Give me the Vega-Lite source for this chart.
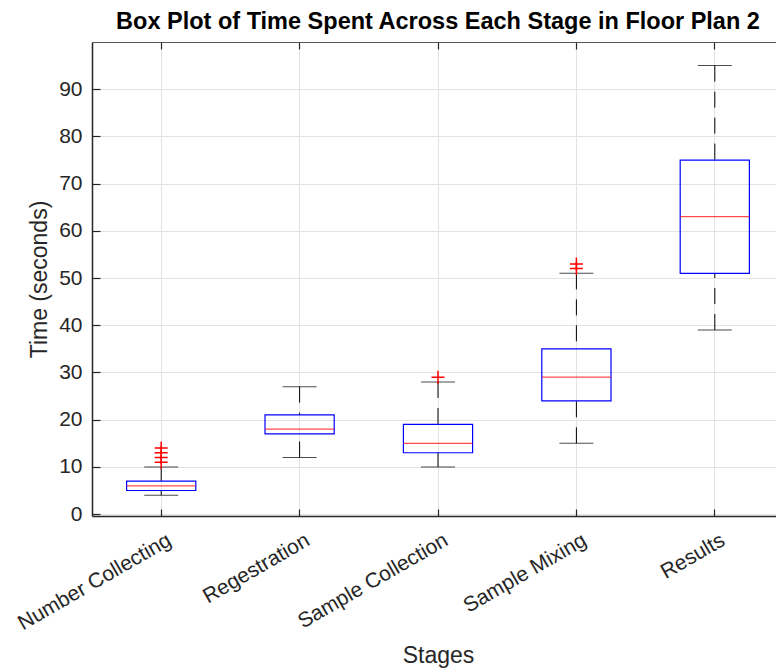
{
  "$schema": "https://vega.github.io/schema/vega-lite/v6.json",
  "autosize": {"type": "none"},
  "padding": {"left": 92, "top": 42, "right": 0, "bottom": 152},
  "width": 684,
  "height": 474,
  "background": "white",
  "title": {
    "text": "Box Plot of Time Spent Across Each Stage in Floor Plan 2",
    "font": "Liberation Sans",
    "fontSize": 23.5,
    "fontWeight": "bold",
    "color": "#000000",
    "anchor": "middle",
    "dx": 4,
    "offset": 8
  },
  "datasets": {
    "stats": [
      {"stage": "Number Collecting", "lower": 4, "q1": 5, "median": 6, "q3": 7, "upper": 10},
      {"stage": "Regestration", "lower": 12, "q1": 17, "median": 18, "q3": 21, "upper": 27},
      {"stage": "Sample Collection", "lower": 10, "q1": 13, "median": 15, "q3": 19, "upper": 28},
      {"stage": "Sample Mixing", "lower": 15, "q1": 24, "median": 29, "q3": 35, "upper": 51},
      {"stage": "Results", "lower": 39, "q1": 51, "median": 63, "q3": 75, "upper": 95}
    ],
    "outliers": [
      {"stage": "Number Collecting", "time": 11},
      {"stage": "Number Collecting", "time": 12},
      {"stage": "Number Collecting", "time": 13},
      {"stage": "Number Collecting", "time": 14},
      {"stage": "Sample Collection", "time": 29},
      {"stage": "Sample Mixing", "time": 52},
      {"stage": "Sample Mixing", "time": 53}
    ]
  },
  "config": {
    "view": {"stroke": null},
    "axis": {
      "labelFont": "Liberation Sans",
      "titleFont": "Liberation Sans",
      "labelColor": "#262626",
      "titleColor": "#262626",
      "domainColor": "#262626",
      "tickColor": "#262626",
      "gridColor": "#e3e3e3",
      "gridWidth": 1,
      "domainWidth": 1.5,
      "tickWidth": 1.2,
      "labelFontSize": 21,
      "titleFontSize": 23,
      "titleFontWeight": "normal"
    }
  },
  "resolve": {"axis": {"x": "independent"}},
  "layer": [
    {
      "data": {"name": "stats"},
      "mark": {"type": "rule", "color": "black", "strokeWidth": 1, "strokeDash": [16, 10]},
      "encoding": {
        "x": {
          "field": "stage", "type": "nominal", "sort": null,
          "scale": {"range": [0, 692], "paddingInner": 0, "paddingOuter": 0},
          "axis": {
            "title": "Stages",
            "labelAngle": -30,
            "labelAlign": "right",
            "labelBaseline": "top",
            "labelOffset": 3,
            "labelPadding": 20,
            "tickSize": -7,
            "grid": true,
            "titlePadding": 11,
            "titleX": 346
          }
        },
        "y": {
          "field": "lower", "type": "quantitative", "title": "Time (seconds)",
          "scale": {"domain": [-0.4, 100], "nice": false, "zero": false},
          "axis": {
            "values": [0, 10, 20, 30, 40, 50, 60, 70, 80, 90],
            "tickSize": -8,
            "labelPadding": 18,
            "grid": true,
            "titlePadding": 7
          }
        },
        "y2": {"field": "q1"}
      }
    },
    {
      "data": {"name": "stats"},
      "mark": {"type": "rule", "color": "black", "strokeWidth": 1, "strokeDash": [16, 10]},
      "encoding": {
        "x": {
          "field": "stage", "type": "nominal", "sort": null,
          "axis": {
            "orient": "top",
            "title": null,
            "labels": false,
            "grid": false,
            "tickSize": -7,
            "domainColor": "#555555",
            "domainWidth": 1.2
          }
        },
        "y": {"field": "upper", "type": "quantitative", "title": "Time (seconds)"},
        "y2": {"field": "q3"}
      }
    },
    {
      "data": {"name": "stats"},
      "mark": {"type": "tick", "color": "black", "size": 34, "thickness": 1},
      "encoding": {
        "x": {"field": "stage", "type": "nominal", "sort": null, "axis": null},
        "y": {"field": "lower", "type": "quantitative", "title": "Time (seconds)"}
      }
    },
    {
      "data": {"name": "stats"},
      "mark": {"type": "tick", "color": "black", "size": 34, "thickness": 1},
      "encoding": {
        "x": {"field": "stage", "type": "nominal", "sort": null, "axis": null},
        "y": {"field": "upper", "type": "quantitative", "title": "Time (seconds)"}
      }
    },
    {
      "data": {"name": "stats"},
      "mark": {"type": "bar", "fill": "transparent", "stroke": "#0000ff", "strokeWidth": 1.2, "width": {"band": 0.5}},
      "encoding": {
        "x": {"field": "stage", "type": "nominal", "sort": null, "axis": null},
        "y": {"field": "q1", "type": "quantitative", "title": "Time (seconds)"},
        "y2": {"field": "q3"}
      }
    },
    {
      "data": {"name": "stats"},
      "mark": {"type": "tick", "color": "#ff0000", "size": 69, "thickness": 1.2},
      "encoding": {
        "x": {"field": "stage", "type": "nominal", "sort": null, "axis": null},
        "y": {"field": "median", "type": "quantitative", "title": "Time (seconds)"}
      }
    },
    {
      "data": {"name": "outliers"},
      "mark": {"type": "point", "shape": "M-1,0L1,0M0,-1L0,1", "filled": false, "stroke": "#ff0000", "strokeWidth": 1.5, "size": 169, "opacity": 1},
      "encoding": {
        "x": {"field": "stage", "type": "nominal", "sort": null, "axis": null},
        "y": {"field": "time", "type": "quantitative", "title": "Time (seconds)"}
      }
    }
  ]
}
